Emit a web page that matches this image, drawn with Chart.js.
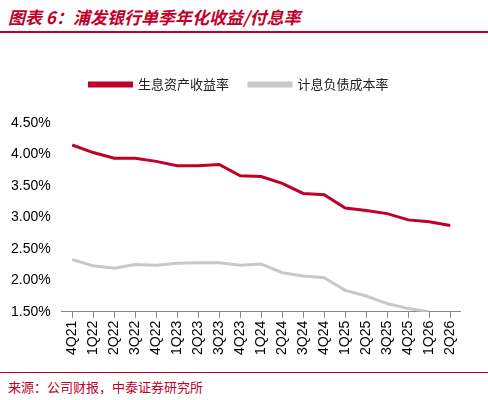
<!DOCTYPE html><html><head><meta charset="utf-8">
<script src="https://cdn.jsdelivr.net/npm/chart.js@4"></script>
<style>body{margin:0;width:488px;height:400px;background:#fff;font-family:"Noto Sans CJK SC";position:relative;overflow:hidden}
#t{position:absolute;left:8px;top:4px;color:#c00028;font-weight:bold;font-style:italic;font-size:17px}
#l{position:absolute;left:0;top:31px;width:488px;height:2px;background:#c00028}
#s{position:absolute;left:8px;top:377px;font-size:13px;color:#c00028}
#b{position:absolute;left:0;top:372px;width:488px;height:1px;background:#c00028}
#w{position:absolute;left:0;top:58px;width:470px;height:300px}</style></head><body>
<div id="t">图表 6：浦发银行单季年化收益/付息率</div><div id="l"></div>
<div id="w"><canvas id="c"></canvas></div><div id="b"></div>
<div id="s">来源：公司财报，中泰证券研究所</div>
<script>
const categories=["4Q21","1Q22","2Q22","3Q22","4Q22","1Q23","2Q23","3Q23","4Q23","1Q24","2Q24","3Q24","4Q24","1Q25","2Q25","3Q25","4Q25","1Q26","2Q26"];
const yieldRate=[4.15,4.03,3.94,3.94,3.89,3.82,3.82,3.84,3.66,3.65,3.54,3.38,3.36,3.15,3.11,3.06,2.96,2.93,2.87];
const costRate=[2.33,2.23,2.19,2.25,2.24,2.27,2.28,2.28,2.24,2.26,2.12,2.07,2.04,1.84,1.75,1.63,1.55,1.50,null];
new Chart(document.getElementById('c'),{type:'line',data:{labels:categories,datasets:[
{label:'生息资产收益率',data:yieldRate,borderColor:'#c00028',backgroundColor:'#c00028',borderWidth:3,pointRadius:0,tension:0},
{label:'计息负债成本率',data:costRate,borderColor:'#c8c8c8',backgroundColor:'#c8c8c8',borderWidth:3,pointRadius:0,tension:0}]},
plugins:[{id:'lp',beforeInit(c){const f=c.legend.fit;c.legend.fit=function(){f.bind(c.legend)();this.height+=22;};}}],
options:{responsive:true,maintainAspectRatio:false,animation:false,layout:{padding:{left:8,right:0,top:0}},
plugins:{legend:{align:'center',labels:{boxWidth:42,boxHeight:3,font:{size:13,family:'Noto Sans CJK SC'},color:'#222',padding:20}},tooltip:{enabled:false}},
scales:{y:{min:1.5,max:4.5,ticks:{stepSize:0.5,callback:v=>v.toFixed(2)+'%',color:'#000',font:{size:14,family:'Liberation Sans'}},grid:{display:false},border:{display:false}},
x:{offset:true,grid:{display:true,drawOnChartArea:false,tickLength:6,color:'#888'},border:{color:'#888'},ticks:{maxRotation:90,minRotation:90,color:'#000',font:{size:14,family:'Liberation Sans'}}}}}});
</script></body></html>
